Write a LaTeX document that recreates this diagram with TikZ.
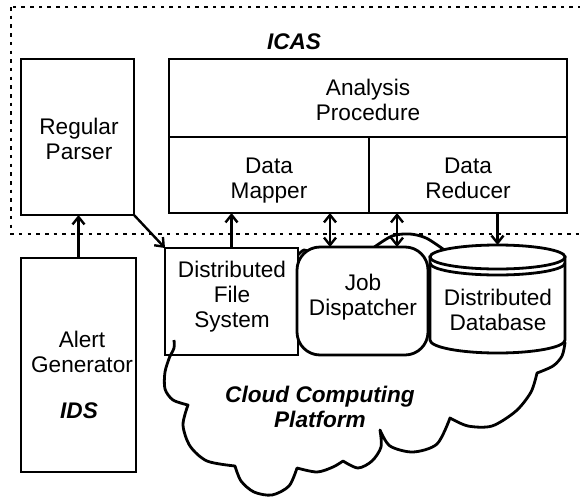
\documentclass[tikz,border=0pt]{standalone}
\usepackage{fontspec}
\setmainfont{Liberation Sans}
\usetikzlibrary{arrows.meta}
\begin{document}
\begin{tikzpicture}[x=1pt,y=-1pt,
  every node/.style={inner sep=0pt, outer sep=0pt},
  box/.style={draw, line width=2.8pt, fill=white},
  outline/.style={line width=2.8pt, line join=round},
  lbl/.style={anchor=base, font=\fontsize{22.6}{25}\selectfont},
  ttl/.style={anchor=base, font=\fontsize{22.6}{25}\selectfont\bfseries\itshape},
  tip/.tip={Straight Barb[length=7.5pt,width=12pt]},
  link/.style={line width=2.4pt, -tip},
  dlink/.style={line width=2.4pt, tip-tip},
  frame/.style={line width=2.5pt, dash pattern=on 3.5pt off 5.2pt},
]
\useasboundingbox (0,0) rectangle (580,498);

% cloud computing platform (drawn first, boxes sit on top of it)
\draw[outline, fill=white]
  (174,340) -- (174,348)
  -- plot[smooth] coordinates {(174,348) (170,356) (165,372) (165,389) (173,400) (188,405)}
  -- plot[smooth] coordinates {(188,405) (183,425) (190,446) (207,461) (235,466)}
  -- plot[smooth] coordinates {(235,466) (241,481) (254,492) (272,495) (289,486) (297,468)}
  -- plot[smooth] coordinates {(297,468) (317,472) (333,467) (343,461)}
  -- plot[smooth] coordinates {(343,461) (358,468) (372,461) (381,447) (380,430)}
  -- plot[smooth] coordinates {(380,430) (390,446) (413,452) (437,444) (450,418)}
  -- plot[smooth] coordinates {(450,418) (468,426) (492,426) (516,411) (531,392) (537,373)}
  -- plot[smooth] coordinates {(537,373) (553,366) (562,356) (565,343)}
  -- (545,300) -- (455,258)
  -- plot[smooth] coordinates {(455,258) (443,249) (426,238) (410,234) (392,236) (373,248)}
  -- (330,262) -- (311,253)
  -- plot[smooth] coordinates {(311,253) (304,250) (298,255)}
  -- (290,262) -- cycle;

% ICAS components
\node[box, minimum width=113pt, minimum height=156pt, anchor=north west] (parser) at (21,59) {};
\node[box, minimum width=398pt, minimum height=78pt, anchor=north west] (analysis) at (169,59) {};
\node[box, minimum width=200pt, minimum height=76pt, anchor=north west] (mapper) at (169,137) {};
\node[box, minimum width=198pt, minimum height=76pt, anchor=north west] (reducer) at (369,137) {};

% IDS
\node[box, minimum width=115pt, minimum height=214pt, anchor=north west] (alert) at (21,258) {};

% cloud platform services
\node[box, minimum width=133pt, minimum height=107pt, anchor=north west] (dfs) at (165,248) {};
\node[box, rounded corners=23pt, minimum width=131pt, minimum height=108pt, anchor=north west] (jd) at (297,247) {};

% distributed database cylinder
\draw[box] (430,257) -- (430,340)
  .. controls (430,347.2) and (460.2,353) .. (497.5,353)
  .. controls (534.8,353) and (565,347.2) .. (565,340)
  -- (565,257) -- cycle;
\draw[box] (497.5,257) ellipse [x radius=67.5pt, y radius=12pt];
\draw[outline] (430,263) .. controls (430,269.6) and (460.2,275) .. (497.5,275)
  .. controls (534.8,275) and (565,269.6) .. (565,263);
\coordinate (db) at (497.5,245);

% end of the cloud outline seen inside the file system box
\draw[outline] plot[smooth] coordinates {(174,340) (174,348) (170,356)};

% labels
\node[ttl] (icas) at (294,49) {ICAS};
\node[lbl] (parser-t) at (79,134) {\begin{tabular}[t]{@{}c@{}}Regular\\Parser\end{tabular}};
\node[lbl] (analysis-t) at (368,95) {\begin{tabular}[t]{@{}c@{}}Analysis\\Procedure\end{tabular}};
\node[lbl] (mapper-t) at (269,173) {\begin{tabular}[t]{@{}c@{}}Data\\Mapper\end{tabular}};
\node[lbl] (reducer-t) at (468,173) {\begin{tabular}[t]{@{}c@{}}Data\\Reducer\end{tabular}};
\node[lbl] (dfs-t) at (232,277) {\begin{tabular}[t]{@{}c@{}}Distributed\\File\\System\end{tabular}};
\node[lbl] (jd-t) at (363,290) {\begin{tabular}[t]{@{}c@{}}Job\\Dispatcher\end{tabular}};
\node[lbl] (db-t) at (498,305) {\begin{tabular}[t]{@{}c@{}}Distributed\\Database\end{tabular}};
\node[lbl] (alert-t) at (82,347) {\begin{tabular}[t]{@{}c@{}}Alert\\Generator\end{tabular}};
\node[ttl] (ids) at (79,418) {IDS};
\node[ttl] (cloud-t) at (320,402) {\begin{tabular}[t]{@{}c@{}}Cloud Computing\\Platform\end{tabular}};

% ICAS boundary
\draw[frame] (11,7) rectangle (600,234);

% connectors
\coordinate (j1) at (330,247);
\coordinate (j2) at (397,247);
\draw[link] (alert.north) -- (alert.north |- parser.south);
\draw[link] (parser.south east) -- (dfs.north west);
\draw[link] (dfs.north) -- (dfs.north |- mapper.south);
\draw[dlink] (j1) -- (j1 |- mapper.south);
\draw[dlink] (j2) -- (j2 |- reducer.south);
\draw[link] (db |- reducer.south) -- (db);
\end{tikzpicture}
\end{document}
